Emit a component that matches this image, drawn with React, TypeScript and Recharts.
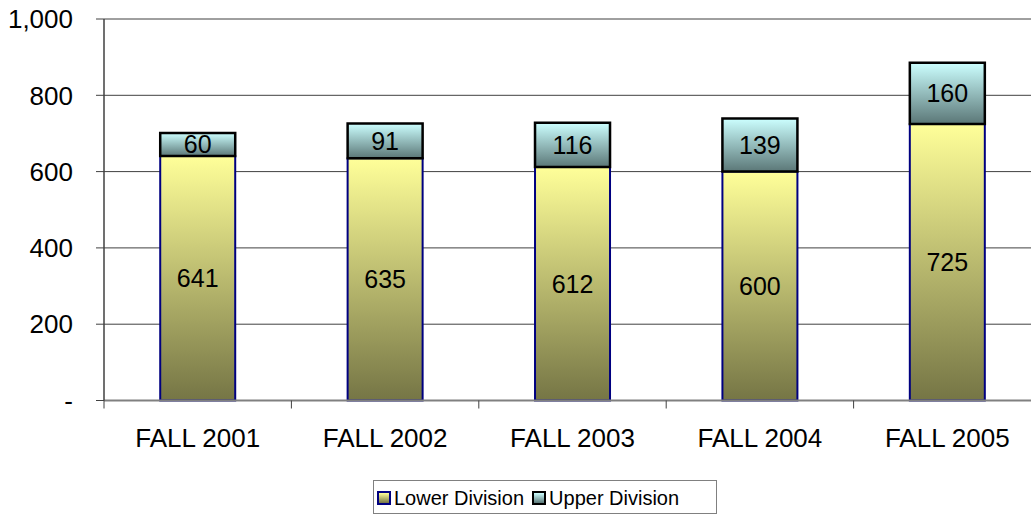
import React from "react";
import { Bar, BarChart, CartesianGrid, LabelList, XAxis, YAxis } from "recharts";

const terms = ["FALL 2001", "FALL 2002", "FALL 2003", "FALL 2004", "FALL 2005"];
const lowerDivision = [641, 635, 612, 600, 725];
const upperDivision = [60, 91, 116, 139, 160];
const yTicks = [0, 200, 400, 600, 800, 1000];

const data = terms.map((term, i) => ({
  term,
  lower: lowerDivision[i],
  upper: upperDivision[i],
}));

const font = "'Liberation Sans', Arial, sans-serif";
const TICK_GAP = 28;

const fmtY = (v: number) => (v === 0 ? "-" : v.toLocaleString("en-US"));

// category label plus a tick mark on the category boundaries
const CatTick = (props: any) => {
  const { x, y, payload, index } = props;
  const half = payload?.offset || 93.6;
  const axisY = y - TICK_GAP;
  const last = index === terms.length - 1;
  return (
    <g>
      <line x1={x - half} x2={x - half} y1={axisY} y2={axisY + 8} stroke="#404040" />
      {last && <line x1={x + half} x2={x + half} y1={axisY} y2={axisY + 8} stroke="#404040" />}
      <text x={x} y={y} dy="0.71em" textAnchor="middle" fill="#000" fontSize={26} fontFamily={font}>
        {payload.value}
      </text>
    </g>
  );
};

const Swatch = ({ from, to, border }: { from: string; to: string; border: string }) => (
  <span
    style={{
      display: "inline-block",
      width: 10,
      height: 10,
      border: `2px solid ${border}`,
      background: `linear-gradient(${from}, ${to})`,
      marginRight: 3,
      verticalAlign: "middle",
      position: "relative",
      top: -2,
    }}
  />
);

export default function App() {
  return (
    <div
      style={{
        position: "absolute",
        left: 0,
        top: 0,
        width: 1031,
        height: 516,
        overflow: "hidden",
        background: "#fff",
        fontFamily: font,
      }}
    >
      <BarChart
        width={1041}
        height={516}
        data={data}
        margin={{ top: 19, right: 0, left: 0, bottom: 55.5 }}
        barCategoryGap="30%"
      >
        <defs>
          <linearGradient id="gradLow" x1="0" y1="0" x2="0" y2="1">
            <stop offset="0%" stopColor="#FFFF99" />
            <stop offset="100%" stopColor="#757545" />
          </linearGradient>
          <linearGradient id="gradUp" x1="0" y1="0" x2="0" y2="1">
            <stop offset="0%" stopColor="#CCFFFF" />
            <stop offset="100%" stopColor="#5B7777" />
          </linearGradient>
        </defs>
        <CartesianGrid vertical={false} stroke="#404040" strokeWidth={1} />
        <XAxis
          dataKey="term"
          height={60}
          axisLine={{ stroke: "#808080", strokeWidth: 2 }}
          tickLine={false}
          tickSize={0}
          tickMargin={TICK_GAP}
          tick={<CatTick />}
          interval={0}
        />
        <YAxis
          width={104}
          domain={[0, 1000]}
          ticks={yTicks}
          tickFormatter={fmtY}
          axisLine={{ stroke: "#404040", strokeWidth: 1.5 }}
          tickLine={{ stroke: "#404040" }}
          tickSize={8}
          tickMargin={23}
          tick={{ fill: "#000", fontSize: 26, fontFamily: font }}
        />
        <Bar
          dataKey="lower"
          stackId="a"
          fill="url(#gradLow)"
          stroke="#000080"
          strokeWidth={2}
          isAnimationActive={false}
        >
          <LabelList dataKey="lower" position="center" fill="#000" fontSize={25} fontFamily={font} />
        </Bar>
        <Bar
          dataKey="upper"
          stackId="a"
          fill="url(#gradUp)"
          stroke="#000"
          strokeWidth={2.5}
          isAnimationActive={false}
        >
          <LabelList dataKey="upper" position="center" fill="#000" fontSize={25} fontFamily={font} />
        </Bar>
      </BarChart>
      <div
        style={{
          position: "absolute",
          left: 373,
          top: 480,
          width: 344,
          height: 34,
          border: "1px solid #808080",
          fontSize: 20,
          lineHeight: "34px",
          whiteSpace: "nowrap",
          paddingLeft: 3,
          boxSizing: "border-box",
          color: "#000",
        }}
      >
        <Swatch from="#FFFF99" to="#757545" border="#000080" />
        <span style={{ marginRight: 8 }}>Lower Division</span>
        <Swatch from="#CCFFFF" to="#5B7777" border="#000" />
        <span>Upper Division</span>
      </div>
    </div>
  );
}
